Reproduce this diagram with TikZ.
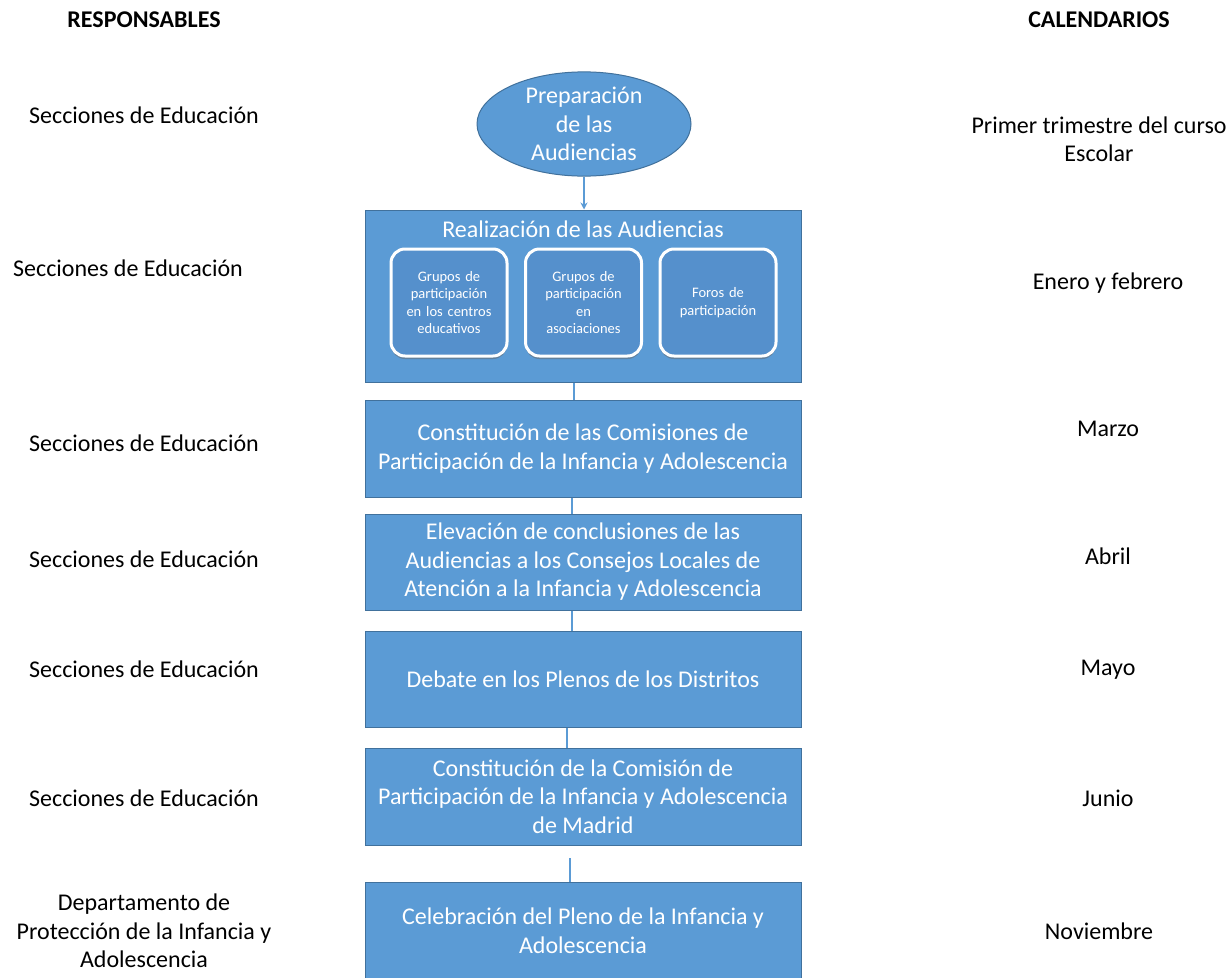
\documentclass[tikz,border=0pt]{standalone}
\usepackage{fontspec}
\setmainfont{Carlito}
\usetikzlibrary{shapes.geometric,arrows.meta,shadows}
\definecolor{boxblue}{HTML}{5B9BD5}
\definecolor{edgeblue}{HTML}{41719C}
\definecolor{innerblue}{HTML}{5590CC}
\definecolor{linkblue}{HTML}{5B9BD5}
\begin{document}
\begin{tikzpicture}[x=1pt,y=-1pt,
  stage/.style={draw=edgeblue, fill=boxblue, line width=1pt, minimum width=436pt,
    text=white, align=center, font=\fontsize{24}{28.5}\selectfont, inner sep=0pt},
  inner/.style={draw=white, line width=3pt, fill=innerblue, rounded corners=14pt,
    minimum width=116pt, minimum height=107pt, text width=112pt, align=center,
    text=white, font=\fontsize{14.5}{17.5}\selectfont, inner sep=0pt,
    drop shadow={shadow xshift=0pt, shadow yshift=-3pt, fill=black!60, opacity=0.5}},
  side/.style={align=center, font=\fontsize{24}{28.5}\selectfont, text=black, inner sep=0pt},
  head/.style={align=center, font=\bfseries\fontsize{24}{28}\selectfont, text=black, inner sep=0pt},
  link/.style={draw=linkblue, line width=1.5pt}
]
\useasboundingbox (0,0) rectangle (1231,977);
\fill[white] (0,0) rectangle (1231,977);

% headings
\node[head] (hr) at (144,20) {RESPONSABLES};
\node[head] (hc) at (1099,20) {CALENDARIOS};

% ellipse
\node[ellipse, draw=edgeblue, fill=boxblue, line width=1pt, minimum width=214pt, minimum height=97pt,
  inner sep=0pt, text=white, align=center, font=\fontsize{24}{28.5}\selectfont] (prep) at (584,124)
  {Preparación\\de las\\Audiencias};

% stages
\node[stage, minimum height=172pt] (b1) at (583,296) {};
\node[text=white, font=\fontsize{24}{28}\selectfont, inner sep=0pt] (b1t) at (583,229) {Realización de las Audiencias};
\node[inner] (i1) at (449,302.5) {Grupos de\\participación\\en los centros\\educativos};
\node[inner] (i2) at (583.5,302.5) {Grupos de\\participación\\en\\asociaciones};
\node[inner] (i3) at (718,302.5) {Foros de\\participación};

\node[stage, minimum height=97pt] (b2) at (583,448.5) {Constitución de las Comisiones de\\Participación de la Infancia y Adolescencia};
\node[stage, minimum height=96pt] (b3) at (583,562) {Elevación de conclusiones de las\\Audiencias a los Consejos Locales de\\Atención a la Infancia y Adolescencia};
\node[stage, minimum height=96pt] (b4) at (583,679) {Debate en los Plenos de los Distritos};
\node[stage, minimum height=97pt] (b5) at (583,796.5) {Constitución de la Comisión de\\Participación de la Infancia y Adolescencia\\de Madrid};
\node[stage, minimum height=110pt] (b6) at (583,937) {};
\node[text=white, align=center, font=\fontsize{24}{28.5}\selectfont, inner sep=0pt] (b6t) at (583,930.5)
  {Celebración del Pleno de la Infancia y\\Adolescencia};

% connectors
\draw[link, -{Stealth[length=7pt,width=7pt]}] (prep.south) -- (b1.north -| prep.south);
\coordinate (x1) at (574,0);
\coordinate (x2) at (572,0);
\coordinate (x3) at (567,0);
\coordinate (free5) at (570,858);
\draw[link] (b1.south -| x1) -- (b2.north -| x1);
\draw[link] (b2.south -| x2) -- (b3.north -| x2);
\draw[link] (b3.south -| x2) -- (b4.north -| x2);
\draw[link] (b4.south -| x3) -- (b5.north -| x3);
\draw[link] (free5) -- (b6.north -| free5);

% responsables
\node[side] (r1) at (144,115) {Secciones de Educación};
\node[side] (r2) at (128,268) {Secciones de Educación};
\node[side] (r3) at (144,443) {Secciones de Educación};
\node[side] (r4) at (144,559) {Secciones de Educación};
\node[side] (r5) at (144,669) {Secciones de Educación};
\node[side] (r6) at (144,798) {Secciones de Educación};
\node[side] (r7) at (144,931) {Departamento de\\Protección de la Infancia y\\Adolescencia};

% calendarios
\node[side] (c1) at (1099,139.5) {Primer trimestre del curso\\Escolar};
\node[side] (c2) at (1108,283) {Enero y febrero};
\node[side] (c3) at (1108,429) {Marzo};
\node[side] (c4) at (1108,556) {Abril};
\node[side] (c5) at (1108,670) {Mayo};
\node[side] (c6) at (1108,798) {Junio};
\node[side] (c7) at (1099,931) {Noviembre};
\end{tikzpicture}
\end{document}
